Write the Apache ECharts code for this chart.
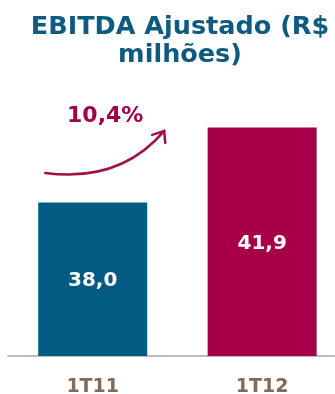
<!DOCTYPE html>
<html>
<head>
<meta charset="utf-8">
<script src="https://cdn.jsdelivr.net/npm/echarts@6/dist/echarts.min.js"></script>
<style>
  html, body { margin: 0; padding: 0; background: #ffffff; }
  #chart { width: 335px; height: 394px; }
</style>
</head>
<body>
<div id="chart"></div>
<script>
// Quarterly adjusted EBITDA, R$ millions
const categories = ['1T11', '1T12'];
const ebitdaValues = [38.0, 41.9];
const valueLabels = ['38,0', '41,9'];
const growthLabel = '10,4%';
const barColors = ['#005a82', '#a80048'];

const FONT = '"DejaVu Sans", Verdana, sans-serif';

const chart = echarts.init(document.getElementById('chart'), null, { renderer: 'canvas' });

const option = {
  animation: false,
  backgroundColor: '#ffffff',
  title: {
    text: 'EBITDA Ajustado (R$\nmilhões)',
    left: 175,
    top: 8.5,
    textAlign: 'center',
    textStyle: {
      fontFamily: FONT,
      fontSize: 25.5,
      fontWeight: 'bold',
      color: '#0e5a80',
      lineHeight: 28
    }
  },
  grid: { left: 8, right: 0, top: 68, bottom: 38, outerBoundsMode: 'none', containLabel: false },
  // Quarters sit at positions 0 and 1; the range leaves the wider right margin
  xAxis: {
    type: 'value',
    min: -0.5,
    max: 1.43,
    splitLine: { show: false },
    axisTick: { show: false },
    axisLine: { show: true, onZero: false, lineStyle: { color: '#a6a6a6', width: 1.5 } },
    axisLabel: {
      customValues: [0, 1],
      formatter: v => categories[Math.round(v)] || '',
      margin: 22,
      fontFamily: FONT,
      fontSize: 19,
      fontWeight: 'bold',
      color: '#806c58'
    }
  },
  yAxis: {
    type: 'value',
    min: 30,
    max: 45,
    show: false,
    splitLine: { show: false }
  },
  series: [{
    type: 'bar',
    barWidth: 109,
    data: ebitdaValues.map((v, i) => ({ value: [i, v], itemStyle: { color: barColors[i] } })),
    label: {
      show: true,
      position: 'inside',
      offset: [0, 2],
      formatter: p => valueLabels[p.dataIndex],
      fontFamily: FONT,
      fontSize: 20,
      fontWeight: 'bold',
      color: '#ffffff'
    }
  }]
};

chart.setOption(option);

// Growth arrow placed relative to the top of the first bar
const top0 = chart.convertToPixel({ seriesIndex: 0 }, [0, ebitdaValues[0]]);
const cx = top0[0], cy = top0[1];
const arrowColor = '#a0104a';

chart.setOption({
  graphic: [
    {
      type: 'bezierCurve',
      shape: {
        x1: cx - 47.5, y1: cy - 29.5,
        cpx1: cx + 27.5, cpy1: cy - 19.5,
        x2: cx + 71.5, y2: cy - 71.5
      },
      style: { stroke: arrowColor, lineWidth: 2.5, fill: null, lineCap: 'round' }
    },
    {
      type: 'polyline',
      shape: {
        points: [
          [cx + 59.5, cy - 67.5],
          [cx + 71.5, cy - 71.5],
          [cx + 72.5, cy - 59.5]
        ]
      },
      style: { stroke: arrowColor, lineWidth: 2.5, fill: null, lineCap: 'round', lineJoin: 'round' }
    },
    {
      type: 'text',
      x: cx + 12.5,
      y: cy - 86,
      style: {
        text: growthLabel,
        fontFamily: FONT,
        fontSize: 22,
        fontWeight: 'bold',
        fill: '#a0004a',
        align: 'center',
        verticalAlign: 'middle'
      }
    }
  ]
});
</script>
</body>
</html>
